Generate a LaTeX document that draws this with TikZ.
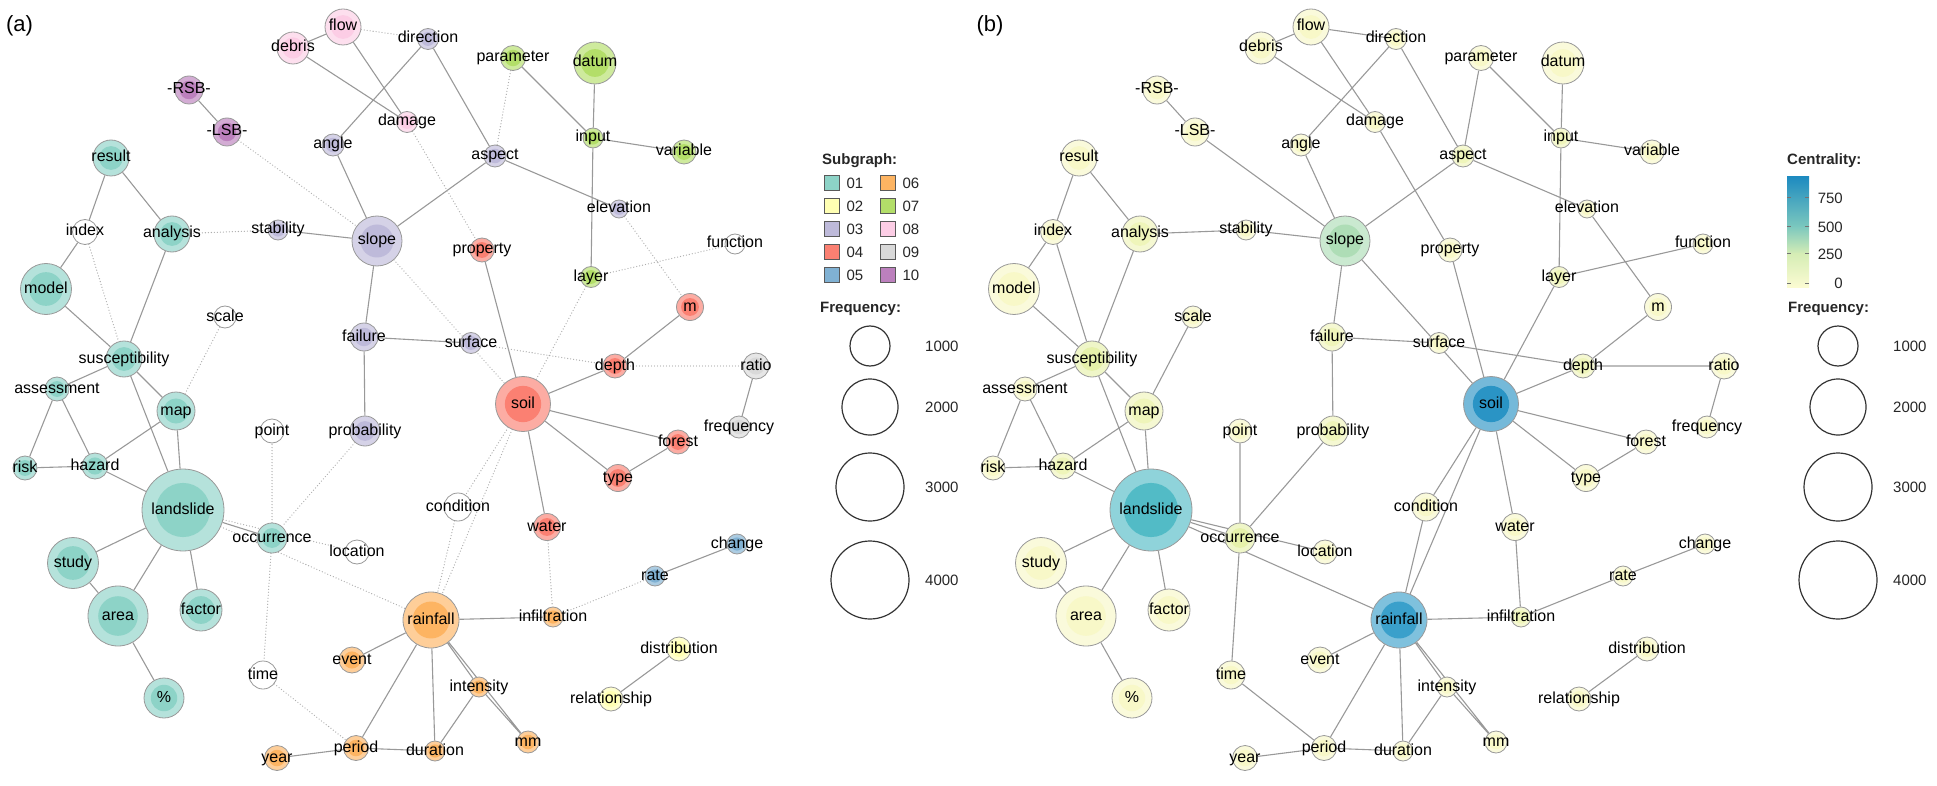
\documentclass[tikz,border=0pt]{standalone}
\usepackage{fontspec}
\setmainfont{Liberation Sans}
\usepackage{tikz}
\usetikzlibrary{backgrounds}
\definecolor{sub01}{HTML}{8DD3C7}
\definecolor{sub02}{HTML}{FFFFB3}
\definecolor{sub03}{HTML}{BEBADA}
\definecolor{sub04}{HTML}{FB8072}
\definecolor{sub05}{HTML}{80B1D3}
\definecolor{sub06}{HTML}{FDB462}
\definecolor{sub07}{HTML}{B3DE69}
\definecolor{sub08}{HTML}{FCCDE5}
\definecolor{sub09}{HTML}{D9D9D9}
\definecolor{sub10}{HTML}{BC80BD}
\definecolor{cenz}{HTML}{F8F8C8}
\definecolor{cenl}{HTML}{EFF5BA}
\definecolor{cenm}{HTML}{E6F1AA}
\definecolor{censl}{HTML}{AEDDB6}
\definecolor{cenls}{HTML}{52BBC6}
\definecolor{cenrf}{HTML}{3AA0CB}
\definecolor{censo}{HTML}{2A94C5}
\definecolor{cbar4}{HTML}{1E8BC0}
\definecolor{cbar3}{HTML}{7CC8BE}
\definecolor{cbar2}{HTML}{D5EDB5}
\definecolor{cbar1}{HTML}{FBFBD2}
\tikzset{
	grp/.style={fill=#1!65!white, kwin/.style={fill=#1}},
	kwin/.style={fill=white},
	kwc/.style 2 args={grp=#1},
	kw/.style={circle, draw=black!40, line width=0.8pt, inner sep=0pt,
		minimum size={2*#1pt},
		path picture={\fill[kwin] (path picture bounding box.center) circle[radius={0.66*#1pt}];}},
	kwtext/.style={font=\fontsize{16}{18}\selectfont, inner sep=0pt, text=black,
		text height=11.5pt, text depth=3.5pt},
	intra/.style={black!40, line width=1.1pt},
	inter/.style={black!40, line width=1.1pt},
	legtitle/.style={font=\fontsize{15}{17}\selectfont\bfseries, anchor=west, inner sep=0pt, text=black!85},
	legtext/.style={font=\fontsize{15}{17}\selectfont, inner sep=0pt, text=black!85},
	swatch/.style={draw=black!65, line width=0.8pt, minimum size=15pt, inner sep=0pt},
	freq/.style={circle, draw=black!80, line width=1.2pt, inner sep=0pt, minimum size={2*#1pt}},
	cbtick/.style={black!55, line width=1pt},
	panel/.style={font=\fontsize{22}{24}\selectfont, inner sep=0pt},
}
% one network panel; #1 is the name prefix
\newcommand{\kwpanel}[1]{%
	% subgraph 01
	\node[kw=18, kwc={sub01}{cenz}, label={[kwtext]center:result}] (#1result) at (111,158) {};
	\node[kw=18, kwc={sub01}{cenl}, label={[kwtext]center:analysis}] (#1analysis) at (172,234) {};
	\node[kw=25.5, kwc={sub01}{cenz}, label={[kwtext]center:model}] (#1model) at (46,289) {};
	\node[kw=18, kwc={sub01}{cenm}, label={[kwtext]center:susceptibility}] (#1susceptibility) at (124,359) {};
	\node[kw=12, kwc={sub01}{cenz}, label={[kwtext]center:assessment}] (#1assessment) at (57,389) {};
	\node[kw=19, kwc={sub01}{cenl}, label={[kwtext]center:map}] (#1map) at (176,411) {};
	\node[kw=12, kwc={sub01}{cenz}, label={[kwtext]center:risk}] (#1risk) at (25,468) {};
	\node[kw=13, kwc={sub01}{cenl}, label={[kwtext]center:hazard}] (#1hazard) at (95,466) {};
	\node[kw=41, kwc={sub01}{cenls}, label={[kwtext]center:landslide}] (#1landslide) at (183,510) {};
	\node[kw=15, kwc={sub01}{cenm}, label={[kwtext]center:occurrence}] (#1occurrence) at (272,538) {};
	\node[kw=25.5, kwc={sub01}{cenz}, label={[kwtext]center:study}] (#1study) at (73,563) {};
	\node[kw=30, kwc={sub01}{cenz}, label={[kwtext]center:area}] (#1area) at (118,616) {};
	\node[kw=21, kwc={sub01}{cenz}, label={[kwtext]center:factor}] (#1factor) at (201,610) {};
	\node[kw=20, kwc={sub01}{cenz}, label={[kwtext]center:\%}] (#1pct) at (164,698) {};
	% no subgraph
	\node[kw=12.5, kwc={white}{cenz}, label={[kwtext]center:index}] (#1index) at (85,232) {};
	\node[kw=11, kwc={white}{cenz}, label={[kwtext]center:scale}] (#1scale) at (225,317) {};
	\node[kw=12, kwc={white}{cenz}, label={[kwtext]center:point}] (#1point) at (272,431) {};
	\node[kw=12, kwc={white}{cenz}, label={[kwtext]center:location}] (#1location) at (357,552) {};
	\node[kw=14, kwc={white}{cenz}, label={[kwtext]center:time}] (#1time) at (263,675) {};
	\node[kw=14, kwc={white}{cenz}, label={[kwtext]center:condition}] (#1condition) at (458,507) {};
	\node[kw=10, kwc={white}{cenz}, label={[kwtext]center:function}] (#1function) at (735,244) {};
	% subgraph 02
	\node[kw=12, kwc={sub02}{cenz}, label={[kwtext]center:distribution}] (#1distribution) at (679,649) {};
	\node[kw=12, kwc={sub02}{cenz}, label={[kwtext]center:relationship}] (#1relationship) at (611,699) {};
	% subgraph 03
	\node[kw=10.5, kwc={sub03}{cenz}, label={[kwtext]center:direction}] (#1direction) at (428,39) {};
	\node[kw=11, kwc={sub03}{cenz}, label={[kwtext]center:angle}] (#1angle) at (333,145) {};
	\node[kw=11, kwc={sub03}{cenl}, label={[kwtext]center:aspect}] (#1aspect) at (495,156) {};
	\node[kw=9, kwc={sub03}{cenz}, label={[kwtext]center:elevation}] (#1elevation) at (619,209) {};
	\node[kw=10, kwc={sub03}{cenz}, label={[kwtext]center:stability}] (#1stability) at (278,230) {};
	\node[kw=25, kwc={sub03}{censl}, label={[kwtext]center:slope}] (#1slope) at (377,241) {};
	\node[kw=14, kwc={sub03}{cenl}, label={[kwtext]center:failure}] (#1failure) at (364,337) {};
	\node[kw=10.5, kwc={sub03}{cenz}, label={[kwtext]center:surface}] (#1surface) at (471,343) {};
	\node[kw=15, kwc={sub03}{cenl}, label={[kwtext]center:probability}] (#1probability) at (365,431) {};
	% subgraph 04
	\node[kw=12, kwc={sub04}{cenz}, label={[kwtext]center:property}] (#1property) at (482,250) {};
	\node[kw=13.5, kwc={sub04}{cenz}, label={[kwtext]center:m}] (#1m) at (690,307) {};
	\node[kw=12, kwc={sub04}{cenl}, label={[kwtext]center:depth}] (#1depth) at (615,366) {};
	\node[kw=27.5, kwc={sub04}{censo}, label={[kwtext]center:soil}] (#1soil) at (523,404) {};
	\node[kw=12, kwc={sub04}{cenz}, label={[kwtext]center:forest}] (#1forest) at (678,442) {};
	\node[kw=13.5, kwc={sub04}{cenz}, label={[kwtext]center:type}] (#1type) at (618,478) {};
	\node[kw=13.5, kwc={sub04}{cenz}, label={[kwtext]center:water}] (#1water) at (547,527) {};
	% subgraph 05
	\node[kw=10, kwc={sub05}{cenz}, label={[kwtext]center:change}] (#1change) at (737,544) {};
	\node[kw=10, kwc={sub05}{cenz}, label={[kwtext]center:rate}] (#1rate) at (655,576) {};
	% subgraph 06
	\node[kw=28, kwc={sub06}{cenrf}, label={[kwtext]center:rainfall}] (#1rainfall) at (431,620) {};
	\node[kw=10, kwc={sub06}{cenl}, label={[kwtext]center:infiltration}] (#1infiltration) at (553,617) {};
	\node[kw=13, kwc={sub06}{cenz}, label={[kwtext]center:event}] (#1event) at (352,660) {};
	\node[kw=10, kwc={sub06}{cenz}, label={[kwtext]center:intensity}] (#1intensity) at (479,687) {};
	\node[kw=11, kwc={sub06}{cenz}, label={[kwtext]center:mm}] (#1mm) at (528,742) {};
	\node[kw=12.5, kwc={sub06}{cenz}, label={[kwtext]center:period}] (#1period) at (356,748) {};
	\node[kw=10, kwc={sub06}{cenz}, label={[kwtext]center:duration}] (#1duration) at (435,751) {};
	\node[kw=12.5, kwc={sub06}{cenz}, label={[kwtext]center:year}] (#1year) at (277,758) {};
	% subgraph 07
	\node[kw=12.5, kwc={sub07}{cenz}, label={[kwtext]center:parameter}] (#1parameter) at (513,58) {};
	\node[kw=21, kwc={sub07}{cenz}, label={[kwtext]center:datum}] (#1datum) at (595,63) {};
	\node[kw=10, kwc={sub07}{cenl}, label={[kwtext]center:input}] (#1input) at (593,138) {};
	\node[kw=12, kwc={sub07}{cenz}, label={[kwtext]center:variable}] (#1variable) at (684,152) {};
	\node[kw=10.5, kwc={sub07}{cenl}, label={[kwtext]center:layer}] (#1layer) at (591,277) {};
	% subgraph 08
	\node[kw=18, kwc={sub08}{cenz}, label={[kwtext]center:flow}] (#1flow) at (343,27) {};
	\node[kw=16, kwc={sub08}{cenz}, label={[kwtext]center:debris}] (#1debris) at (293,48) {};
	\node[kw=10.5, kwc={sub08}{cenz}, label={[kwtext]center:damage}] (#1damage) at (407,122) {};
	% subgraph 09
	\node[kw=13, kwc={sub09}{cenz}, label={[kwtext]center:ratio}] (#1ratio) at (756,366) {};
	\node[kw=11, kwc={sub09}{cenz}, label={[kwtext]center:frequency}] (#1frequency) at (739,427) {};
	% subgraph 10
	\node[kw=14, kwc={sub10}{cenz}, label={[kwtext]center:-RSB-}] (#1rsb) at (189,90) {};
	\node[kw=14, kwc={sub10}{cenz}, label={[kwtext]center:-LSB-}] (#1lsb) at (227,132) {};
	% links
	\begin{pgfonlayer}{background}
		\draw[intra] (#1debris) -- (#1flow) (#1debris) -- (#1damage) (#1flow) -- (#1damage)
			(#1direction) -- (#1angle) (#1direction) -- (#1aspect) (#1rsb) -- (#1lsb)
			(#1angle) -- (#1slope) (#1result) -- (#1index) (#1index) -- (#1model)
			(#1result) -- (#1analysis) (#1stability) -- (#1slope)
			(#1analysis) -- (#1susceptibility) (#1model) -- (#1susceptibility)
			(#1susceptibility) -- (#1assessment) (#1susceptibility) -- (#1map)
			(#1susceptibility) -- (#1landslide) (#1slope) -- (#1failure) (#1slope) -- (#1aspect)
			(#1failure) -- (#1surface) (#1failure) -- (#1probability)
			(#1parameter) -- (#1input) (#1datum) -- (#1input) (#1input) -- (#1variable)
			(#1input) -- (#1layer) (#1aspect) -- (#1elevation) (#1property) -- (#1soil)
			(#1m) -- (#1depth) (#1depth) -- (#1soil) (#1ratio) -- (#1frequency)
			(#1soil) -- (#1forest) (#1soil) -- (#1type) (#1forest) -- (#1type) (#1soil) -- (#1water)
			(#1rainfall) -- (#1infiltration) (#1rate) -- (#1change)
			(#1distribution) -- (#1relationship) (#1rainfall) -- (#1event)
			(#1rainfall) -- (#1period) (#1rainfall) -- (#1duration) (#1rainfall) -- (#1intensity)
			(#1rainfall) -- (#1mm) (#1intensity) -- (#1mm) (#1intensity) -- (#1duration)
			(#1period) -- (#1duration) (#1period) -- (#1year)
			(#1landslide) -- (#1occurrence) (#1landslide) -- (#1map) (#1landslide) -- (#1hazard)
			(#1landslide) -- (#1study) (#1landslide) -- (#1area) (#1landslide) -- (#1factor)
			(#1study) -- (#1area) (#1area) -- (#1pct) (#1hazard) -- (#1map) (#1hazard) -- (#1risk)
			(#1hazard) -- (#1assessment) (#1assessment) -- (#1risk);
		\draw[inter] (#1flow) -- (#1direction) (#1lsb) -- (#1slope) (#1analysis) -- (#1stability)
			(#1index) -- (#1susceptibility) (#1scale) -- (#1map) (#1slope) -- (#1soil)
			(#1probability) -- (#1occurrence) (#1damage) -- (#1property) (#1parameter) -- (#1aspect)
			(#1elevation) -- (#1m) (#1layer) -- (#1function) (#1layer) -- (#1soil)
			(#1surface) -- (#1depth) (#1depth) -- (#1ratio) (#1soil) -- (#1condition)
			(#1soil) -- (#1rainfall) (#1condition) -- (#1rainfall) (#1water) -- (#1infiltration)
			(#1infiltration) -- (#1rate) (#1time) -- (#1period) (#1occurrence) -- (#1time)
			(#1occurrence) -- (#1point) (#1landslide) -- (#1location) (#1landslide) -- (#1rainfall);
	\end{pgfonlayer}
	% frequency legend
	\node[legtitle] (#1freq) at (820,309) {Frequency:};
	\node[freq=20] (#1f1) at (870,346) {};
	\node[freq=28] (#1f2) at (870,407) {};
	\node[freq=34] (#1f3) at (870,487) {};
	\node[freq=39] (#1f4) at (870,580) {};
	\node[legtext, anchor=west] (#1f1t) at (925,346) {1000};
	\node[legtext, anchor=west] (#1f2t) at (925,407) {2000};
	\node[legtext, anchor=west] (#1f3t) at (925,487) {3000};
	\node[legtext, anchor=west] (#1f4t) at (925,580) {4000};
}

\begin{document}
\begin{tikzpicture}[x=1pt, y=-1pt]
	\useasboundingbox (0,0) rectangle (1937,786);

	% (a) coloured by subgraph
	\begin{scope}[kwc/.style 2 args={grp=#1},
		inter/.style={black!32, line width=1.3pt, line cap=round, dash pattern=on 0pt off 3pt}]
		\node[panel] (taga) at (19.5,26) {(a)};
		\kwpanel{a-}
		\node[legtitle] (subtitle) at (822,161) {Subgraph:};
		\node[swatch, fill=sub01, label={[legtext, label distance=7pt]right:01}] (sw01) at (831.5,183) {};
		\node[swatch, fill=sub02, label={[legtext, label distance=7pt]right:02}] (sw02) at (831.5,206) {};
		\node[swatch, fill=sub03, label={[legtext, label distance=7pt]right:03}] (sw03) at (831.5,229) {};
		\node[swatch, fill=sub04, label={[legtext, label distance=7pt]right:04}] (sw04) at (831.5,252) {};
		\node[swatch, fill=sub05, label={[legtext, label distance=7pt]right:05}] (sw05) at (831.5,275) {};
		\node[swatch, fill=sub06, label={[legtext, label distance=7pt]right:06}] (sw06) at (887.5,183) {};
		\node[swatch, fill=sub07, label={[legtext, label distance=7pt]right:07}] (sw07) at (887.5,206) {};
		\node[swatch, fill=sub08, label={[legtext, label distance=7pt]right:08}] (sw08) at (887.5,229) {};
		\node[swatch, fill=sub09, label={[legtext, label distance=7pt]right:09}] (sw09) at (887.5,252) {};
		\node[swatch, fill=sub10, label={[legtext, label distance=7pt]right:10}] (sw10) at (887.5,275) {};
	\end{scope}

	% (b) coloured by centrality
	\begin{scope}[xshift=968pt, kwc/.style 2 args={grp=#2}]
		\node[panel] (tagb) at (22,26) {(b)};
		\kwpanel{b-}
	\end{scope}
	\node[legtitle] (centitle) at (1787,161) {Centrality:};
	\shade[top color=cbar4, bottom color=cbar3] (1787,177) rectangle (1809,227);
	\shade[top color=cbar3, bottom color=cbar2] (1787,226.5) rectangle (1809,254);
	\shade[top color=cbar2, bottom color=cbar1] (1787,253.5) rectangle (1809,287);
	\draw[cbtick] (1787,198) -- (1791,198) (1805,198) -- (1809,198)
		(1787,227) -- (1791,227) (1805,227) -- (1809,227)
		(1787,254) -- (1791,254) (1805,254) -- (1809,254)
		(1787,283) -- (1791,283) (1805,283) -- (1809,283);
	\node[legtext, anchor=east] (c750) at (1843,198) {750};
	\node[legtext, anchor=east] (c500) at (1843,227) {500};
	\node[legtext, anchor=east] (c250) at (1843,254) {250};
	\node[legtext, anchor=east] (c0) at (1843,283) {0};
\end{tikzpicture}
\end{document}
